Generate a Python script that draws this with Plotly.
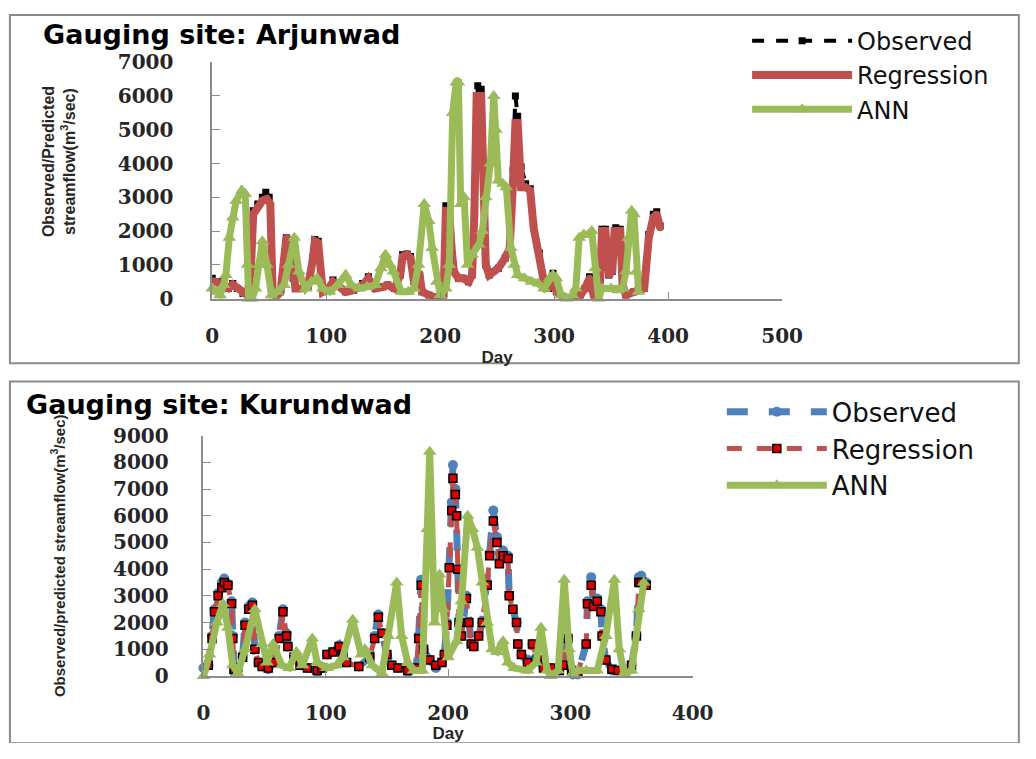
import plotly.graph_objects as go

# The page body keeps the browser's default 8px margin, so the figure is sized to fill the window exactly.
OFF = 8
W, H = 1036 - 2 * OFF, 759 - 2 * OFF

# ---------------- Arjunwad (top) ----------------
arj_obs_day = [0, 5, 10, 14, 18, 22, 27, 31, 34, 36, 40, 44, 47, 50, 53, 56, 60, 63, 65, 69, 71, 73, 78, 84, 88, 90, 93, 95, 97,
               102, 106, 110, 117, 124, 132, 137, 143, 150, 154, 160, 165, 167, 171, 174, 177, 180, 182, 184, 190, 194, 198,
               203, 205, 208, 210, 212, 216, 220, 225, 228, 230, 233, 236, 238, 240, 243, 246, 251, 257, 261, 264, 266, 268,
               271, 275, 279, 282, 287, 291, 295, 299, 302, 307, 311, 318, 323, 327, 331, 335, 340, 342, 345, 348, 351, 354,
               358, 360, 363, 370, 379, 383, 387, 390, 393]
arj_obs = [600, 500, 380, 300, 450, 300, 150, 100, 1000, 2600, 2800, 3000, 3150, 3000, 200, 50, 200, 1100, 1800, 1750, 600, 300,
           300, 350, 1200, 1750, 1700, 600, 200,
           300, 550, 400, 200, 250, 450, 650, 300, 350, 400, 300, 700, 1300, 1320, 1250, 500, 850, 700, 200, 100, 50, 50,
           100, 2750, 2700, 1500, 800, 600, 600, 500, 700, 2600, 6300, 6200, 4000, 1000, 700, 800, 900, 1200, 1500, 3800,
           6000, 5400, 3900, 3400, 3250, 2200, 1350, 550, 300, 750, 200, 50, 0, 0, 100, 300, 650, 50, 300, 2050, 2050, 700,
           800, 2100, 2050, 400, 100, 200, 300, 1900, 2500, 2570, 2150]

arj_reg_day = [0, 5, 10, 14, 18, 22, 27, 31, 34, 36, 40, 44, 48, 51, 53, 56, 60, 63, 65, 69, 71, 73, 78, 84, 88, 90, 93, 95, 97,
               102, 106, 110, 117, 124, 132, 137, 143, 150, 154, 160, 165, 167, 171, 174, 177, 180, 182, 184, 190, 194, 198,
               203, 205, 208, 210, 212, 216, 220, 225, 228, 230, 232, 236, 238, 240, 243, 246, 251, 257, 261, 264, 266, 268,
               271, 275, 279, 282, 287, 291, 295, 299, 302, 307, 311, 318, 323, 327, 331, 335, 340, 342, 345, 348, 351, 353,
               358, 360, 363, 370, 379, 383, 387, 390, 393]
arj_reg = [520, 480, 350, 300, 420, 300, 150, 100, 900, 2500, 2700, 2900, 2950, 2800, 200, 50, 200, 1000, 1800, 1700, 600, 300,
           300, 350, 1100, 1700, 1650, 600, 200,
           300, 500, 400, 200, 250, 400, 600, 300, 350, 400, 300, 700, 1250, 1300, 1200, 500, 800, 700, 200, 100, 50, 50,
           100, 2600, 2600, 1500, 800, 600, 600, 500, 700, 2500, 6000, 6000, 4000, 1000, 700, 800, 900, 1200, 1500, 3500,
           5200, 5200, 3300, 3300, 3200, 2100, 1300, 500, 300, 700, 200, 50, 0, 0, 100, 300, 600, 50, 300, 2000, 2000, 700,
           800, 2000, 2000, 400, 100, 200, 300, 1800, 2400, 2500, 2100]

arj_ann_day = [0, 4, 7, 10, 12, 15, 18, 21, 26, 29, 31, 32, 35, 38, 41, 44, 48, 52, 57, 63, 67, 72, 76, 82, 87, 92, 97, 103,
               110, 117, 122, 129, 136, 143, 148, 152, 156, 159, 166, 172, 177, 181, 186, 190, 193, 197, 200, 205, 208, 211,
               214, 216, 218, 221, 224, 228, 234, 237, 240, 244, 247, 249, 251, 255, 258, 262, 265, 268, 274, 280, 286, 291,
               296, 299, 302, 306, 311, 316, 319, 322, 326, 330, 333, 336, 339, 342, 350, 356, 360, 363, 365, 368, 370, 372,
               374]
arj_ann = [300, 200, 100, 400, 700, 1800, 2400, 2900, 3200, 3100, 1000, 0, 0, 300, 1000, 1700, 1000, 100, 200, 400, 1000, 1800,
           800, 300, 500, 600, 300, 200, 400, 700, 400, 300, 350, 400, 900, 1300, 1000, 800, 200, 200, 300, 1000, 2800,
           2300, 1500, 500, 100, 300, 1000, 5500, 6400, 6400, 2800, 3000, 1000, 1300, 1600, 2000, 3000, 4000, 6000, 5000,
           3500, 3400, 3300, 1500, 1000, 700, 600, 500, 450, 300, 600, 700, 600, 100, 0, 100, 300, 1800, 1900, 1900, 2000,
           900, 0, 300, 300, 250, 300, 800, 1800, 2600, 2500, 800, 200]

# ---------------- Kurundwad (bottom) ----------------
kur_obs_day = [0, 4, 7, 9, 12, 15, 17, 20, 23, 24, 25, 28, 32, 34, 37, 40, 42, 45, 48, 53, 58, 62, 65, 68, 69, 74, 79, 85, 93,
               97, 101, 106, 111, 114, 117, 127, 136, 140, 143, 146, 150, 154, 159, 167, 174, 176, 178, 180, 185, 190, 195,
               197, 199, 201, 203, 204, 206, 207, 208, 209, 211, 215, 217, 219, 221, 225, 228, 232, 234, 237, 240, 242, 245,
               249, 250, 253, 256, 257, 260, 265, 269, 273, 278, 284, 291, 294, 298, 301, 302, 306, 313, 314, 317, 319, 322,
               325, 326, 329, 334, 339, 350, 354, 356, 358, 362]
kur_obs = [300, 400, 1500, 2500, 3100, 3500, 3650, 3450, 2800, 1500, 150, 300, 700, 2000, 2600, 2750, 1000, 500, 350, 250, 500,
           1500, 2500, 1600, 1100, 700, 400, 300, 150, 300, 800, 900, 1150, 800, 500, 350, 700, 1500, 2300, 1600, 800, 400,
           300, 150, 300, 1500, 3600, 1000, 600, 300, 500, 800, 2000, 4100, 6500, 7900, 7000, 6000, 4000, 2000, 1500, 3000,
           2000, 1200, 1100, 1500, 2000, 3500, 4600, 6200, 5200, 4300, 4700, 4500, 3000, 2500, 2000, 1200, 800, 500, 1200,
           600, 300, 300, 200, 400, 1450, 200, 50, 50, 1200, 2800, 3700, 2700, 2900, 2500, 1500, 600, 200, 200, 400, 1500,
           3700, 3750, 3500]

kur_reg_day = kur_obs_day
kur_reg = [300, 400, 1400, 2400, 3000, 3300, 3500, 3400, 2700, 1400, 250, 300, 700, 1900, 2500, 2650, 1000, 500, 350, 300, 500,
           1400, 2400, 1500, 1100, 700, 400, 300, 200, 300, 800, 900, 1100, 800, 500, 350, 700, 1400, 2200, 1600, 800, 400,
           300, 200, 300, 1400, 3400, 1000, 600, 400, 500, 800, 1900, 4050, 6200, 7400, 6800, 6000, 4000, 2000, 1500, 2900,
           2000, 1200, 1100, 1500, 2000, 3400, 4500, 5800, 5000, 4200, 4500, 4400, 3000, 2500, 2000, 1200, 800, 500, 1200,
           600, 300, 300, 200, 400, 1400, 200, 80, 100, 1200, 2700, 3400, 2600, 2800, 2400, 1500, 600, 250, 200, 400, 1500,
           3500, 3500, 3400]

kur_ann_day = [0, 5, 11, 16, 20, 24, 28, 34, 42, 48, 52, 57, 64, 70, 76, 81, 89, 93, 101, 109, 114, 122, 129, 132, 138, 146,
               151, 158, 162, 167, 172, 179, 183, 185, 189, 193, 196, 200, 207, 211, 216, 220, 224, 228, 232, 236, 240, 245,
               249, 254, 265, 272, 276, 281, 284, 290, 295, 299, 302, 306, 313, 322, 329, 336, 340, 344, 350, 356, 360]
kur_ann = [0, 800, 2000, 2700, 1800, 400, 100, 1000, 2500, 1200, 500, 1200, 400, 300, 900, 400, 1400, 500, 300, 400, 700, 2100,
           800, 1000, 400, 100, 1500, 3500, 1500, 500, 200, 200, 5500, 8400, 2000, 3800, 2500, 700, 1300, 2800, 6000, 5500,
           4800, 3500, 2000, 1000, 900, 1300, 500, 300, 200, 500, 1800, 200, 0, 200, 3600, 1000, 100, 200, 200, 200, 1500,
           3600, 1000, 100, 200, 2500, 3500]

x_ticks_top = [0, 100, 200, 300, 400, 500]
y_ticks_top = [0, 1000, 2000, 3000, 4000, 5000, 6000, 7000]
x_ticks_bot = [0, 100, 200, 300, 400]
y_ticks_bot = [0, 1000, 2000, 3000, 4000, 5000, 6000, 7000, 8000, 9000]

RED = "#C0504D"
GREEN = "#9BBB59"
BLUE = "#4F81BD"

fig = go.Figure()

# top traces
fig.add_trace(go.Scatter(x=arj_obs_day, y=arj_obs, name="Observed", mode="lines+markers",
                         line=dict(color="black", width=4, dash="dash"),
                         marker=dict(symbol="square", size=7, color="black"),
                         xaxis="x", yaxis="y", legend="legend"))
fig.add_trace(go.Scatter(x=arj_reg_day, y=arj_reg, name="Regression", mode="lines+markers",
                         line=dict(color=RED, width=8),
                         marker=dict(symbol="circle", size=7, color=RED),
                         xaxis="x", yaxis="y", legend="legend"))
fig.add_trace(go.Scatter(x=arj_ann_day, y=arj_ann, name="ANN", mode="lines+markers",
                         line=dict(color=GREEN, width=7),
                         marker=dict(symbol="triangle-up", size=12, color=GREEN),
                         xaxis="x", yaxis="y", legend="legend", cliponaxis=False))

# bottom traces
fig.add_trace(go.Scatter(x=kur_obs_day, y=kur_obs, name="Observed", mode="lines+markers",
                         line=dict(color=BLUE, width=7, dash="dash"),
                         marker=dict(symbol="circle", size=10, color=BLUE),
                         xaxis="x2", yaxis="y2", legend="legend2", cliponaxis=False))
fig.add_trace(go.Scatter(x=kur_reg_day, y=kur_reg, name="Regression", mode="lines+markers",
                         line=dict(color=RED, width=5, dash="dash"),
                         marker=dict(symbol="square", size=8, color="#E00000", line=dict(color="black", width=1.5)),
                         xaxis="x2", yaxis="y2", legend="legend2"))
fig.add_trace(go.Scatter(x=kur_ann_day, y=kur_ann, name="ANN", mode="lines+markers",
                         line=dict(color=GREEN, width=7),
                         marker=dict(symbol="triangle-up", size=12, color=GREEN),
                         xaxis="x2", yaxis="y2", legend="legend2", cliponaxis=False))

def px_x(p):
    return (p - OFF) / W

def px_y(p):
    return 1 - (p - OFF) / H

tickfont = dict(family="DejaVu Serif, serif", size=20, color="#262626", weight="bold")
titlefont = dict(family="Liberation Sans, Arial, sans-serif", size=17, color="#262626", weight="bold")
ytitlefont = dict(family="Liberation Sans, Arial, sans-serif", size=16, color="#262626", weight="bold")
ytitlefont2 = dict(family="Liberation Sans, Arial, sans-serif", size=15, color="#262626", weight="bold")
axcolor = "#8C8C8C"

fig.update_layout(
    width=W, height=H, margin=dict(l=0, r=0, t=0, b=0),
    paper_bgcolor="white", plot_bgcolor="white",
    xaxis=dict(domain=[px_x(219), px_x(805)], range=[0, 500], tickvals=x_ticks_top, anchor="y",
               showgrid=False, zeroline=False, showline=True, linecolor=axcolor, linewidth=1.5,
               ticks="inside", ticklen=7, tickcolor=axcolor, tickfont=tickfont, ticklabelstandoff=19,
               title=dict(text="Day", font=titlefont, standoff=4)),
    yaxis=dict(domain=[px_y(305), px_y(60)], range=[0, 7000], tickvals=y_ticks_top, anchor="x",
               showgrid=False, zeroline=False, showline=True, linecolor=axcolor, linewidth=1.5,
               ticks="inside", ticklen=8, tickcolor=axcolor, tickfont=tickfont, ticklabelstandoff=33),
    xaxis2=dict(domain=[px_x(210), px_x(713)], range=[0, 400], tickvals=x_ticks_bot, anchor="y2",
                showgrid=False, zeroline=False, showline=True, linecolor=axcolor, linewidth=1.5,
                ticks="inside", ticklen=7, tickcolor=axcolor, tickfont=tickfont, ticklabelstandoff=18,
                title=dict(text="Day", font=titlefont, standoff=6)),
    yaxis2=dict(domain=[px_y(696), px_y(447)], range=[0, 9000], tickvals=y_ticks_bot, anchor="x2",
                showgrid=False, zeroline=False, showline=True, linecolor=axcolor, linewidth=1.5,
                ticks="inside", ticklen=8, tickcolor=axcolor, tickfont=tickfont, ticklabelstandoff=29,
                title=dict(text="Observed/predicted streamflow(m<sup>3</sup>/sec)", font=ytitlefont2, standoff=44)),
    legend=dict(x=px_x(769), y=px_y(15), xanchor="left", yanchor="top", bgcolor="rgba(0,0,0,0)",
                font=dict(family="DejaVu Sans, sans-serif", size=24, color="#111111"), itemwidth=100,
                tracegroupgap=0),
    legend2=dict(x=px_x(743), y=px_y(398), xanchor="left", yanchor="top", bgcolor="rgba(0,0,0,0)",
                 font=dict(family="DejaVu Sans, sans-serif", size=26, color="#111111"), itemwidth=100,
                 tracegroupgap=0),
    showlegend=True,
    shapes=[
        dict(type="rect", xref="paper", yref="paper", x0=px_x(11), x1=1.02, y0=px_y(372), y1=px_y(11),
             line=dict(color="#8A8A8A", width=2), fillcolor="rgba(0,0,0,0)", layer="below"),
        dict(type="rect", xref="paper", yref="paper", x0=px_x(11), x1=1.02, y0=-0.02, y1=px_y(391),
             line=dict(color="#8A8A8A", width=2), fillcolor="rgba(0,0,0,0)", layer="below"),
    ],
    annotations=[
        dict(text="<b>Gauging site: Arjunwad</b>", xref="paper", yref="paper", x=px_x(43), y=px_y(31),
             xanchor="left", yanchor="middle", showarrow=False,
             font=dict(family="DejaVu Sans, sans-serif", size=27, color="black")),
        dict(text="<b>Gauging site: Kurundwad</b>", xref="paper", yref="paper", x=px_x(25), y=px_y(415),
             xanchor="left", yanchor="middle", showarrow=False,
             font=dict(family="DejaVu Sans, sans-serif", size=27, color="black")),
        dict(text="<b>Observed/Predicted<br>streamflow(m<sup>3</sup>/sec)</b>", xref="paper", yref="paper",
             x=px_x(61), y=px_y(163), xanchor="center", yanchor="middle", textangle=-90, showarrow=False,
             font=ytitlefont),
    ],
)

fig.write_html("out.html")
